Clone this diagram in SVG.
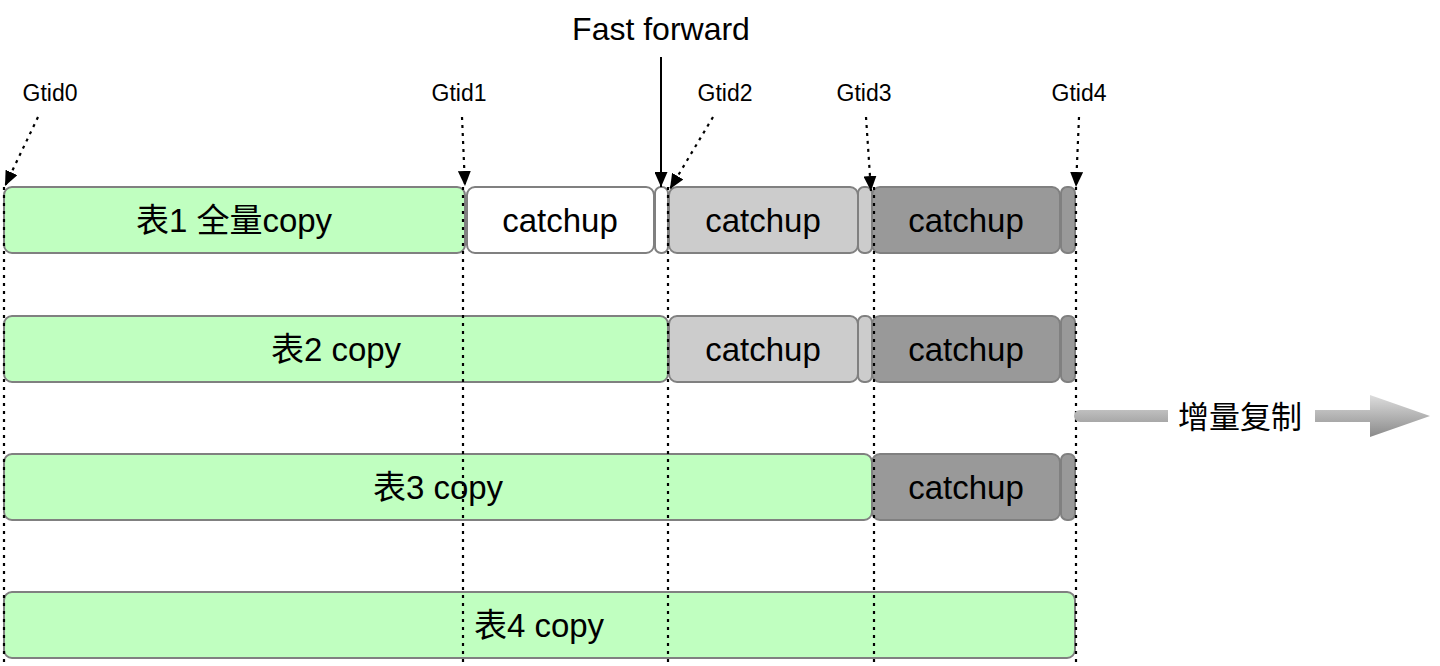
<svg xmlns="http://www.w3.org/2000/svg" width="1440" height="666" viewBox="0 0 1440 666">
<defs>
<style>
text{font-family:"Liberation Sans","Noto Sans CJK SC",sans-serif;fill:#000}
.big{font-size:33px;text-anchor:middle}
.lbl{font-size:23px;text-anchor:middle}
.g{fill:#C0FFC0;stroke:#808080;stroke-width:2}
.w{fill:#FFFFFF;stroke:#808080;stroke-width:2}
.l{fill:#CCCCCC;stroke:#808080;stroke-width:2}
.d{fill:#999999;stroke:#808080;stroke-width:2}
.dot{stroke:#000;stroke-width:2.2;stroke-dasharray:3 5;fill:none}
.dotarrow{stroke:#000;stroke-width:2.2;stroke-dasharray:3 5;fill:none;marker-end:url(#ah)}
</style>
<marker id="ah" viewBox="0 0 10 10" refX="10" refY="5" markerWidth="15" markerHeight="13" markerUnits="userSpaceOnUse" orient="auto" preserveAspectRatio="none">
<path d="M0,0 L10,5 L0,10 Z" fill="#000"/>
</marker>
<linearGradient id="gr" x1="0" y1="0" x2="0" y2="1">
<stop offset="0" stop-color="#DDDDDD"/>
<stop offset="1" stop-color="#8A8A8A"/>
</linearGradient>
</defs>

<g id="row1">
<g id="t1full"><rect class="g" x="4" y="187" width="461" height="66" rx="8"/><text class="big" x="234" y="232">表1 全量copy</text></g>
<g id="r1c1"><rect class="w" x="467" y="187" width="187" height="66" rx="8"/><text class="big" x="560" y="232">catchup</text></g>
<g id="r1s1"><rect class="w" x="655" y="187" width="13" height="66" rx="6"/></g>
<g id="r1c2"><rect class="l" x="669" y="187" width="189" height="66" rx="8"/><text class="big" x="763" y="232">catchup</text></g>
<g id="r1s2"><rect class="l" x="858" y="187" width="14" height="66" rx="6"/></g>
<g id="r1c3"><rect class="d" x="872" y="187" width="188" height="66" rx="8"/><text class="big" x="966" y="232">catchup</text></g>
<g id="r1s3"><rect class="d" x="1061" y="187" width="14" height="66" rx="6"/></g>
</g>

<g id="row2">
<g id="t2"><rect class="g" x="4" y="316" width="664" height="66" rx="8"/><text class="big" x="336" y="361">表2 copy</text></g>
<g id="r2c2"><rect class="l" x="669" y="316" width="189" height="66" rx="8"/><text class="big" x="763" y="361">catchup</text></g>
<g id="r2s2"><rect class="l" x="858" y="316" width="14" height="66" rx="6"/></g>
<g id="r2c3"><rect class="d" x="872" y="316" width="188" height="66" rx="8"/><text class="big" x="966" y="361">catchup</text></g>
<g id="r2s3"><rect class="d" x="1061" y="316" width="14" height="66" rx="6"/></g>
</g>

<g id="row3">
<g id="t3"><rect class="g" x="4" y="454" width="868" height="66" rx="8"/><text class="big" x="438" y="499">表3 copy</text></g>
<g id="r3c3"><rect class="d" x="872" y="454" width="188" height="66" rx="8"/><text class="big" x="966" y="499">catchup</text></g>
<g id="r3s3"><rect class="d" x="1061" y="454" width="14" height="66" rx="6"/></g>
</g>

<g id="row4">
<g id="t4"><rect class="g" x="4" y="592" width="1071" height="66" rx="8"/><text class="big" x="539" y="637">表4 copy</text></g>
</g>

<g id="labels">
<text class="lbl" x="50" y="101">Gtid0</text>
<text class="lbl" x="459" y="101">Gtid1</text>
<text class="lbl" x="725" y="101">Gtid2</text>
<text class="lbl" x="864" y="101">Gtid3</text>
<text class="lbl" x="1079" y="101">Gtid4</text>
<text x="661" y="40" style="font-size:32px;text-anchor:middle">Fast forward</text>
</g>

<g id="connectors">
<line class="dot" x1="4" y1="187" x2="4" y2="666"/>
<line class="dot" x1="463" y1="187" x2="463" y2="666"/>
<line class="dot" x1="668" y1="187" x2="668" y2="666"/>
<line class="dot" x1="874" y1="187" x2="874" y2="666"/>
<line class="dot" x1="1076" y1="187" x2="1076" y2="666"/>
<line class="dotarrow" x1="38" y1="117" x2="5" y2="186"/>
<line class="dotarrow" x1="462" y1="117" x2="465" y2="186"/>
<line class="dotarrow" x1="713" y1="117" x2="670" y2="189"/>
<line class="dotarrow" x1="866" y1="117" x2="871" y2="191"/>
<line class="dotarrow" x1="1079" y1="117" x2="1076" y2="187"/>
<line x1="661" y1="57" x2="661" y2="187" stroke="#000" stroke-width="2" marker-end="url(#ah)"/>
</g>

<g id="incremental">
<path d="M1080,410 L1370,410 L1370,395 L1430,416 L1370,437 L1370,422 L1080,422 A6,6 0 0 1 1080,410 Z" fill="url(#gr)"/>
<rect x="1168" y="398" width="147" height="38" fill="#FFFFFF"/>
<text x="1240" y="428" style="font-size:31px;text-anchor:middle">增量复制</text>
</g>
</svg>
